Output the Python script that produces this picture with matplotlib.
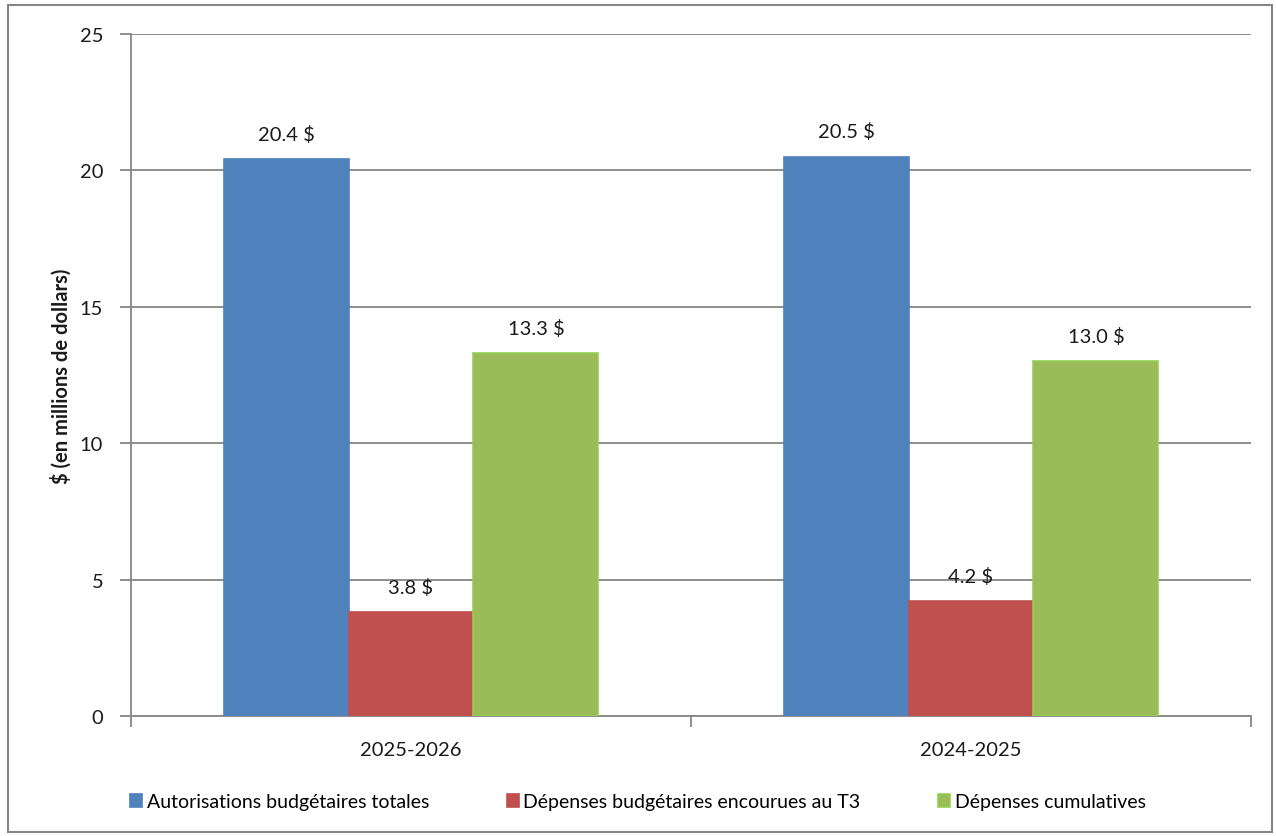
import numpy as np
import matplotlib.pyplot as plt
from matplotlib.patches import Rectangle

plt.rcParams['font.family'] = ['Lato', 'DejaVu Sans']

# data
categories = ['2025-2026', '2024-2025']
series_names = ['Autorisations budgétaires totales',
                'Dépenses budgétaires encourues au T3',
                'Dépenses cumulatives']
autorisations = [20.4, 20.5]
depenses_t3 = [3.8, 4.2]
cumulatives = [13.3, 13.0]
yticks = [0, 5, 10, 15, 20, 25]

colors = ['#4F81BD', '#C0504D', '#9BBB59']
edges = ['#4F81BD', '#C0504D', '#92D050']
grey = '#868686'

fig = plt.figure(figsize=(12.76, 8.37), dpi=100)
ax = fig.add_axes([131 / 1276, 1 - 717 / 837, 1120 / 1276, 682 / 837])

# outer frame like the Excel chart area
fig.patches.append(Rectangle((8 / 1276, 1 - 833 / 837), 1264 / 1276, 827 / 837,
                             transform=fig.transFigure, fill=False,
                             edgecolor=grey, linewidth=1.5))

x = np.arange(len(categories))
w = 0.223
for i, (vals, name) in enumerate(zip([autorisations, depenses_t3, cumulatives], series_names)):
    pos = x + (i - 1) * w
    bars = ax.bar(pos, vals, w, color=colors[i], edgecolor=edges[i],
                  linewidth=1.2, label=name, zorder=3)
    for b, v in zip(bars, vals):
        ax.annotate('%.1f $' % v, (b.get_x() + b.get_width() / 2, v),
                    xytext=(0, 12), textcoords='offset points',
                    ha='center', va='bottom', fontsize=14.5, color='#1a1a1a')

ax.set_xlim(-0.5, 1.5)
ax.set_ylim(0, 25)
ax.set_yticks(yticks)
ax.yaxis.grid(True, color=grey, linewidth=1.3, zorder=0)
ax.set_axisbelow(True)

# category labels without ticks, separators between groups
ax.set_xticks([-0.5, 0.5, 1.5])
ax.set_xticklabels(['', '', ''])
ax.set_xticks(x, minor=True)
ax.set_xticklabels(categories, minor=True, fontsize=14.5, color='#1a1a1a')
ax.tick_params(axis='x', which='minor', length=0, pad=18)
ax.tick_params(axis='x', which='major', length=8, color=grey, width=1.3)
ax.tick_params(axis='y', length=8, color=grey, width=1.3, labelsize=14.5,
               labelcolor='#1a1a1a', pad=12)

for s in ['top', 'right']:
    ax.spines[s].set_visible(False)
for s in ['left', 'bottom']:
    ax.spines[s].set_color(grey)
    ax.spines[s].set_linewidth(1.3)

ax.set_ylabel('$ (en millions de dollars)', fontsize=14.5, fontweight='bold',
              color='#1a1a1a', labelpad=6)

fig.legend(loc='center', bbox_to_anchor=(0.5, 1 - 803 / 837), ncol=3,
           frameon=False, fontsize=14, handlelength=0.6, handleheight=0.6,
           handletextpad=0.25, columnspacing=4.0)

fig.savefig('out.png', dpi=100)
